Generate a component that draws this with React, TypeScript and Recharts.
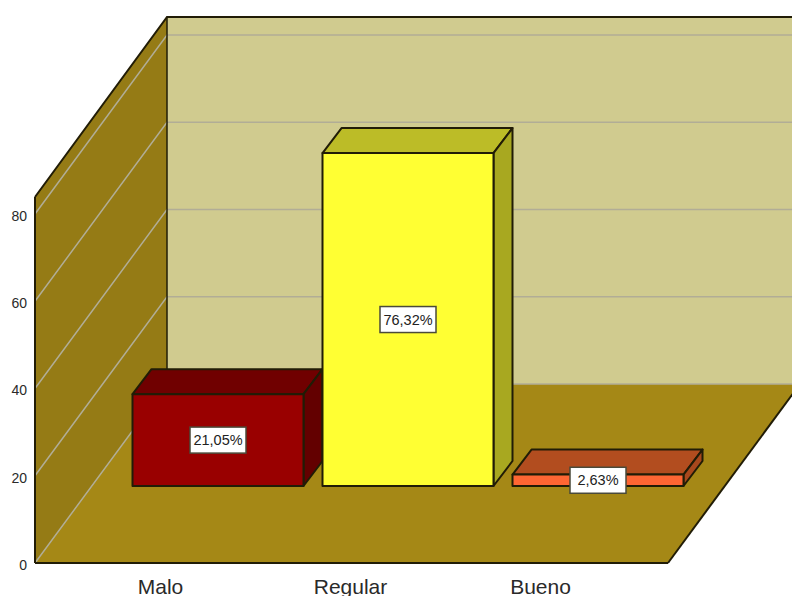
// 3D-style bar chart of rating shares (Malo / Regular / Bueno)
import { BarChart, Bar, XAxis, YAxis, ReferenceArea, ReferenceLine, LabelList } from "recharts";

const categories = ["Malo", "Regular", "Bueno"];
const percentages = [21.05, 76.32, 2.63];
const yTicks = [0, 20, 40, 60, 80];
const yMax = 83.9;

const frontColors = ["#990000", "#ffff33", "#ff6633"];
const topColors = ["#700000", "#bcbc27", "#b24d1f"];
const sideColors = ["#630000", "#a8a820", "#a8481d"];

const rows = categories.map((name, i) => ({ name, value: percentages[i] }));

// category axis padding; reference areas are inset by it
const PAD_LEFT = 30.5;
const PAD_RIGHT = 32.5;

// box depth of the whole plot, and where the bars sit inside it
const WALL_DX = 132;
const WALL_DY = 179;
const BAR_DX = 57;
const BAR_DY = 77;
const BOX_DX = 19;
const BOX_DY = 25;

const EDGE = "#211c06";
const GRID = "#b1ad96";

const pts = (list: number[][]) => list.map((p) => p.join(",")).join(" ");

function Walls({ x: insetX, y, width: insetWidth, height }: any) {
  const x = insetX - PAD_LEFT;
  const r = insetX + insetWidth + PAD_RIGHT;
  const b = y + height;
  return (
    <g>
      <polygon
        points={pts([[x, y], [x + WALL_DX, y - WALL_DY - 1], [x + WALL_DX, b - WALL_DY], [x, b]])}
        fill="#957b15"
      />
      <polygon
        points={pts([[x + WALL_DX, y - WALL_DY - 1], [r + WALL_DX, y - WALL_DY - 1], [r + WALL_DX, b - WALL_DY], [x + WALL_DX, b - WALL_DY]])}
        fill="#d0cb8f"
      />
      <polygon
        points={pts([[x, b], [r, b], [r + WALL_DX, b - WALL_DY], [x + WALL_DX, b - WALL_DY]])}
        fill="#a58816"
      />
      <polyline
        points={pts([[x, y], [x + WALL_DX, y - WALL_DY - 1], [r + WALL_DX, y - WALL_DY - 1]])}
        fill="none"
        stroke={EDGE}
        strokeWidth={2}
      />
      <line x1={r} y1={b} x2={r + WALL_DX} y2={b - WALL_DY} stroke={EDGE} strokeWidth={2} />
    </g>
  );
}

// runs up the side wall, then across the back wall
function WallGridLine({ x1, y1, x2 }: any) {
  return (
    <polyline
      points={pts([[x1, y1], [x1 + WALL_DX, y1 - WALL_DY], [x2 + WALL_DX, y1 - WALL_DY]])}
      fill="none"
      stroke={GRID}
      strokeWidth={1.5}
    />
  );
}

// the corner between side and back wall, drawn over the grid lines
function WallCorner({ x1, y1 }: any) {
  return (
    <line
      x1={x1 + WALL_DX}
      y1={y1 - WALL_DY}
      x2={x1 + WALL_DX}
      y2={y1 - WALL_DY - (563 - 197) - 1}
      stroke={EDGE}
      strokeWidth={1.5}
    />
  );
}

function Box({ x, y, width, height, index }: any) {
  const left = x + BAR_DX;
  const top = y - BAR_DY;
  const right = left + width;
  const bottom = top + height;
  return (
    <g stroke={EDGE} strokeWidth={2} strokeLinejoin="round">
      <polygon
        points={pts([[left, top], [left + BOX_DX, top - BOX_DY], [right + BOX_DX, top - BOX_DY], [right, top]])}
        fill={topColors[index]}
      />
      <polygon
        points={pts([[right, top], [right + BOX_DX, top - BOX_DY], [right + BOX_DX, bottom - BOX_DY], [right, bottom]])}
        fill={sideColors[index]}
      />
      <rect x={left} y={top} width={width} height={height} fill={frontColors[index]} />
    </g>
  );
}

function ValueTag({ x, y, width, height, value }: any) {
  const cx = x + BAR_DX + width / 2;
  const cy = y - BAR_DY + height / 2;
  const text = Number(value).toFixed(2).replace(".", ",") + "%";
  return (
    <g>
      <rect x={cx - 28} y={cy - 13} width={56} height={26} fill="#ffffff" stroke="#4a4a3a" strokeWidth={1.5} />
      <text
        x={cx}
        y={cy + 5}
        textAnchor="middle"
        fontFamily="Liberation Sans"
        fontSize={14.5}
        fill="#222222"
      >
        {text}
      </text>
    </g>
  );
}

export default function App() {
  return (
    <div style={{ position: "absolute", left: 0, top: 0 }}>
      <BarChart
        width={792}
        height={596}
        data={rows}
        margin={{ top: 197, right: 124, bottom: 0, left: 0 }}
        barSize={171}
      >
        <XAxis
          dataKey="name"
          height={33}
          padding={{ left: PAD_LEFT, right: PAD_RIGHT }}
          axisLine={{ stroke: EDGE, strokeWidth: 2 }}
          tickLine={false}
          tickSize={0}
          tickMargin={16}
          tick={{ fontFamily: "Liberation Sans", fontSize: 21, fill: "#2a2a2a" }}
        />
        <YAxis
          width={35}
          domain={[0, yMax]}
          ticks={yTicks}
          axisLine={{ stroke: EDGE, strokeWidth: 2 }}
          tickLine={false}
          tickSize={0}
          tickMargin={8}
          tick={{ fontFamily: "Liberation Sans", fontSize: 14, fill: "#2a2a2a", dy: 2 }}
        />
        <ReferenceArea y1={0} y2={yMax} shape={Walls} fillOpacity={1} zIndex={10} />
        {yTicks.map((t) => (
          <ReferenceLine key={t} y={t} shape={WallGridLine} zIndex={20} />
        ))}
        <ReferenceLine y={0} shape={WallCorner} zIndex={30} />
        <Bar dataKey="value" isAnimationActive={false} shape={Box}>
          <LabelList dataKey="value" content={ValueTag} />
        </Bar>
      </BarChart>
    </div>
  );
}
